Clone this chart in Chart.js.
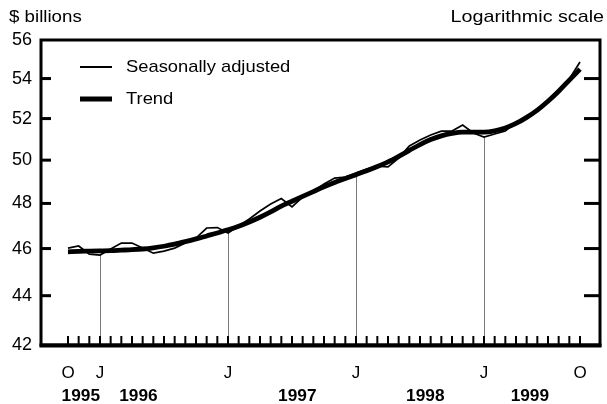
<!DOCTYPE html>
<html><head><meta charset="utf-8">
<script src="https://cdn.jsdelivr.net/npm/chart.js@4.4.0/dist/chart.umd.min.js"></script>
<style>html,body{margin:0;padding:0;background:#fff;}canvas{display:block;}</style>
</head><body>
<canvas id="c" width="607" height="404"></canvas>
<script>
// Months Oct 1995 .. Oct 1999 (index 0..48); only some months are labelled
const monthLabels = [
  'O','','',
  'J','','','','','','','','','','','',
  'J','','','','','','','','','','','',
  'J','','','','','','','','','','','',
  'J','','','','','','','','','O'
];
const seasonallyAdjusted = [
  46.02, 46.11, 45.76,
  45.72, 45.98, 46.24, 46.24, 46.02, 45.80, 45.89, 46.02, 46.24, 46.46, 46.90, 46.92,
  46.68, 46.99, 47.30, 47.66, 47.97, 48.22, 47.84, 48.29, 48.56, 48.89, 49.16, 49.21,
  49.40, 49.58, 49.72, 49.68, 50.10, 50.67, 50.96, 51.20, 51.39, 51.39, 51.68, 51.30,
  51.10, 51.25, 51.39, 51.83, 52.08, 52.42, 52.92, 53.37, 53.98, 54.85
];
const trend = [
  45.86, 45.88, 45.89,
  45.90, 45.91, 45.93, 45.95, 45.98, 46.03, 46.10, 46.19, 46.30, 46.42, 46.55, 46.68,
  46.82, 46.98, 47.17, 47.38, 47.62, 47.88, 48.10, 48.32, 48.54, 48.76, 48.96, 49.14,
  49.32, 49.50, 49.70, 49.92, 50.18, 50.46, 50.74, 50.98, 51.16, 51.28, 51.34, 51.34,
  51.34, 51.40, 51.54, 51.76, 52.06, 52.42, 52.86, 53.36, 53.92, 54.48
];
const yTickValues = [42, 44, 46, 48, 50, 52, 54, 56];
const yearLabels = ['1995', '1996', '1997', '1998', '1999'];
const yearCenters = [1.2, 6.6, 21.5, 33.5, 43.3]; // in month-index units

const FONT = "'Liberation Sans', Arial, sans-serif";

function wideText(ctx, text, x, y, sx, align) {
  ctx.save();
  ctx.translate(x, y);
  ctx.scale(sx, 1);
  ctx.textAlign = align;
  ctx.fillText(text, 0, 0);
  ctx.restore();
}

const decorPlugin = {
  id: 'decor',
  beforeDatasetsDraw(chart) {
    const {ctx, chartArea: a, scales: {x, y}} = chart;
    ctx.save();
    ctx.strokeStyle = '#7a7a7a';
    ctx.lineWidth = 1;
    monthLabels.forEach((l, i) => {
      if (l === 'J') {
        const px = Math.round(x.getPixelForValue(i)) + 0.5;
        ctx.beginPath();
        ctx.moveTo(px, y.getPixelForValue(seasonallyAdjusted[i]));
        ctx.lineTo(px, a.bottom);
        ctx.stroke();
      }
    });
    ctx.restore();
  },
  afterDatasetsDraw(chart) {
    const {ctx, chartArea: a, scales: {x, y}} = chart;
    ctx.save();
    ctx.strokeStyle = '#000';
    // frame
    ctx.lineWidth = 3;
    ctx.strokeRect(a.left, a.top, a.right - a.left, a.bottom - a.top);
    ctx.lineWidth = 4;
    ctx.beginPath(); ctx.moveTo(a.left - 1.5, a.bottom + 0.5); ctx.lineTo(a.right + 1.5, a.bottom + 0.5); ctx.stroke();
    // y ticks
    ctx.lineWidth = 3;
    yTickValues.slice(1, -1).forEach(v => {
      const py = y.getPixelForValue(v);
      ctx.beginPath(); ctx.moveTo(a.left, py); ctx.lineTo(a.left + 10, py); ctx.stroke();
      ctx.beginPath(); ctx.moveTo(a.right - 16, py); ctx.lineTo(a.right, py); ctx.stroke();
    });
    // x month ticks
    ctx.lineWidth = 2;
    monthLabels.forEach((l, i) => {
      const px = x.getPixelForValue(i);
      ctx.beginPath(); ctx.moveTo(px, a.bottom - 9); ctx.lineTo(px, a.bottom); ctx.stroke();
    });
    // legend
    ctx.lineWidth = 2;
    ctx.beginPath(); ctx.moveTo(80, 67); ctx.lineTo(112, 67); ctx.stroke();
    ctx.lineWidth = 5;
    ctx.beginPath(); ctx.moveTo(80, 99); ctx.lineTo(112, 99); ctx.stroke();
    ctx.fillStyle = '#000';
    ctx.textBaseline = 'middle';
    ctx.font = `17px ${FONT}`;
    wideText(ctx, 'Seasonally adjusted', 126, 67, 1.08, 'left');
    wideText(ctx, 'Trend', 126, 99, 1.08, 'left');
    // titles
    wideText(ctx, '$ billions', 9, 17, 1.1, 'left');
    wideText(ctx, 'Logarithmic scale', 604, 17, 1.16, 'right');
    // years
    ctx.font = `bold 16px ${FONT}`;
    yearLabels.forEach((t, k) => wideText(ctx, t, x.getPixelForValue(yearCenters[k]), 397, 1.08, 'center'));
    ctx.restore();
  }
};

new Chart(document.getElementById('c'), {
  type: 'line',
  data: {
    datasets: [
      {
        label: 'Seasonally adjusted',
        data: seasonallyAdjusted.map((v, i) => ({x: i, y: v})),
        borderColor: '#000', borderWidth: 1.7, pointRadius: 0, tension: 0
      },
      {
        label: 'Trend',
        data: trend.map((v, i) => ({x: i, y: v})),
        borderColor: '#000', borderWidth: 4.8, pointRadius: 0,
        cubicInterpolationMode: 'monotone'
      }
    ]
  },
  options: {
    responsive: false,
    animation: false,
    events: [],
    layout: {padding: {left: 0, right: 7, top: 40, bottom: 0}},
    plugins: {legend: {display: false}, tooltip: {enabled: false}},
    scales: {
      x: {
        type: 'linear', min: -2.53, max: 49.875,
        afterBuildTicks: s => { s.ticks = monthLabels.map((l, i) => ({value: i})); },
        afterFit: s => { s.height = 59; },
        grid: {display: false, drawTicks: false},
        border: {display: false},
        ticks: {
          autoSkip: false, maxRotation: 0, padding: 18, color: '#000',
          font: {family: FONT, size: 17},
          callback: v => monthLabels[v] || ''
        }
      },
      y: {
        type: 'logarithmic', min: 42, max: 56,
        afterBuildTicks: s => { s.ticks = yTickValues.map(v => ({value: v})); },
        afterFit: s => { s.width = 41; },
        grid: {display: false, drawTicks: false},
        border: {display: false},
        ticks: {
          padding: 9, color: '#000',
          font: {family: FONT, size: 18},
          callback: v => String(v)
        }
      }
    }
  },
  plugins: [decorPlugin]
});
</script>
</body></html>
